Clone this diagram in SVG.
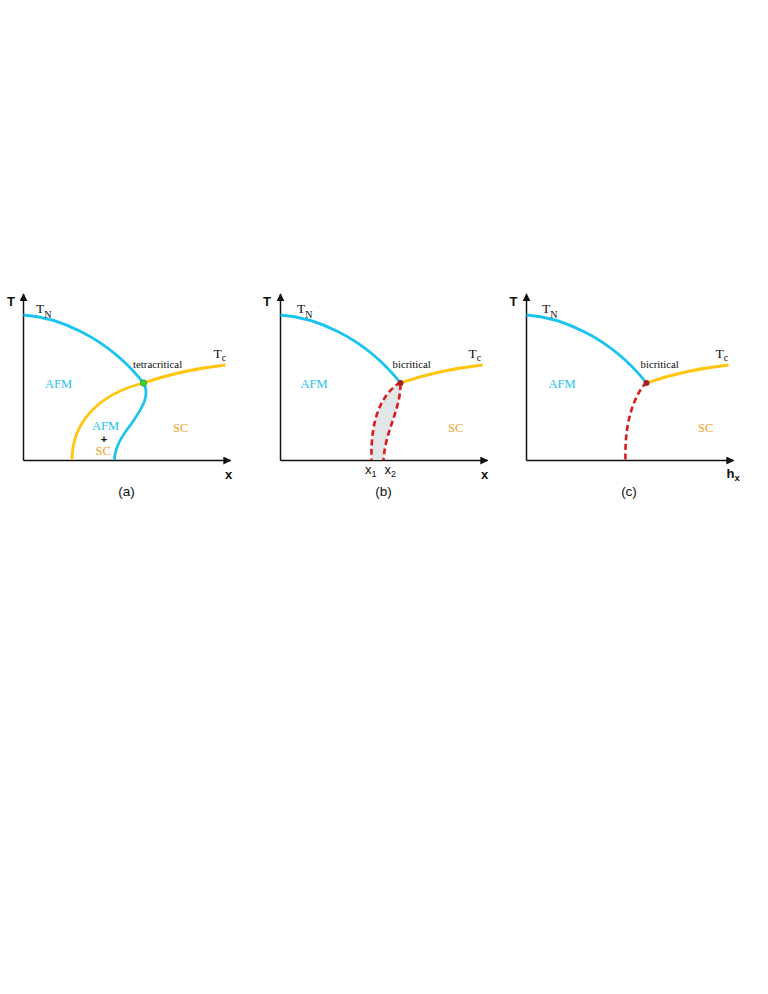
<svg xmlns="http://www.w3.org/2000/svg" width="768" height="994" viewBox="0 0 768 994">
<style>
.axis{stroke:#111;stroke-width:1.5;fill:none}
.blue{stroke:#1CC3F0;stroke-width:2.8;fill:none}
.gold{stroke:#FFC60C;stroke-width:2.8;fill:none}
.dash{stroke:#D91C1C;stroke-width:2.6;fill:none;stroke-dasharray:6 3.5}
.ax{font-family:"Liberation Sans",Arial,sans-serif;font-weight:bold;font-size:13px;fill:#111}
.cap{font-family:"Liberation Sans",Arial,sans-serif;font-size:13.5px;fill:#111;text-anchor:middle}
.serif{font-family:"Liberation Serif","Times New Roman",serif}
.lab{font-size:12.5px}
.tb{font-size:13.5px;fill:#111}
.sub{font-size:10px}
.crit{font-size:10.8px;fill:#111}
.afm{fill:#1CC3F0}
.sc{fill:#F2A02A}
.xs{font-family:"Liberation Sans",Arial,sans-serif;font-size:13px;fill:#111}
</style>
<defs>
<marker id="arr" viewBox="0 0 10 10" refX="9" refY="5" markerWidth="8" markerHeight="8" markerUnits="userSpaceOnUse" orient="auto">
<path d="M0,0 L10,5 L0,10 Z" fill="#111"/>
</marker>
</defs>

<g id="panel-a" transform="translate(23.5,0)">
<g id="axes-a">
<line class="axis" x1="0" y1="460.5" x2="0" y2="294" marker-end="url(#arr)"/>
<line class="axis" x1="0" y1="460.5" x2="207" y2="460.5" marker-end="url(#arr)"/>
<text class="ax" x="-12.5" y="305.5" text-anchor="middle">T</text>
<text class="ax" x="205" y="479" text-anchor="middle">x</text>
<text class="cap" x="103" y="496">(a)</text>
</g>
<g id="curves-a">
<path class="blue" d="M0,315 C32,317 82,335 120,383"/>
<path class="gold" d="M120,383 Q157,370 202,365"/>
<path class="gold" d="M48.5,460 C48.5,425 72,395 120,383"/>
<path class="blue" d="M120,383 C127,395 119,408 107,425 C95,440 91,450 91,460"/>
<circle cx="120" cy="383" r="3.2" fill="#3DD62E" stroke="#2a7a2a" stroke-width="0.6"/>
</g>
<g id="labels-a" class="serif">
<text class="tb" x="12.5" y="313">T<tspan class="sub" dy="4.5">N</tspan></text>
<text class="tb" x="190" y="357.5">T<tspan class="sub" dy="3.5">c</tspan></text>
<text class="crit" x="109.5" y="367.5">tetracritical</text>
<text class="lab afm" x="68.5" y="429.5">AFM</text>
<text class="lab afm" x="21.5" y="388">AFM</text>
<text x="80.5" y="443" text-anchor="middle" font-family="Liberation Sans,Arial,sans-serif" font-weight="bold" font-size="11" fill="#111">+</text>
<text class="lab sc" x="72" y="455">SC</text>
<text class="lab sc" x="149.5" y="432">SC</text>
</g>
</g>

<g id="panel-b" transform="translate(280.5,0)">
<g id="axes-b">
<line class="axis" x1="0" y1="460.5" x2="0" y2="294" marker-end="url(#arr)"/>
<line class="axis" x1="0" y1="460.5" x2="207" y2="460.5" marker-end="url(#arr)"/>
<text class="ax" x="-13.5" y="305.5" text-anchor="middle">T</text>
<text class="ax" x="204" y="479" text-anchor="middle">x</text>
<text class="cap" x="103" y="496">(b)</text>
</g>
<g id="curves-b">
<path d="M120,382 C100,395 90,420 91,460 L103,460 C105,430 120,410 120,384 Z" fill="#E2E6E6"/>
<path class="blue" d="M0,315 C32,317 82,335 120,383"/>
<path class="gold" d="M120,383 Q157,370 202,365"/>
<path class="dash" d="M120,382 C100,395 90,420 91,460"/>
<path class="dash" d="M120,384 C120,410 105,430 103,460"/>
<circle cx="120" cy="383" r="3" fill="#A52020"/>
</g>
<g id="labels-b" class="serif">
<text class="tb" x="16.5" y="313">T<tspan class="sub" dy="4.5">N</tspan></text>
<text class="tb" x="188" y="357.5">T<tspan class="sub" dy="3.5">c</tspan></text>
<text class="crit" x="112" y="367.5">bicritical</text>
<text class="lab afm" x="20" y="388">AFM</text>
<text class="lab sc" x="167.5" y="432">SC</text>
<text class="xs" x="84.5" y="474">x<tspan font-size="9" dy="3">1</tspan></text>
<text class="xs" x="104" y="474">x<tspan font-size="9" dy="3">2</tspan></text>
</g>
</g>

<g id="panel-c" transform="translate(526.5,0)">
<g id="axes-c">
<line class="axis" x1="0" y1="460.5" x2="0" y2="294" marker-end="url(#arr)"/>
<line class="axis" x1="0" y1="460.5" x2="207" y2="460.5" marker-end="url(#arr)"/>
<text class="ax" x="-13" y="305.5" text-anchor="middle">T</text>
<text class="ax" x="200" y="478">h<tspan font-size="9.5" dy="3">x</tspan></text>
<text class="cap" x="102.5" y="496">(c)</text>
</g>
<g id="curves-c">
<path class="blue" d="M0,315 C32,317 82,335 120,383"/>
<path class="gold" d="M120,383 Q157,370 202,365"/>
<path class="dash" d="M120,382 C104,400 98,430 99,460"/>
<circle cx="120" cy="383" r="3" fill="#A52020"/>
</g>
<g id="labels-c" class="serif">
<text class="tb" x="15.5" y="313">T<tspan class="sub" dy="4.5">N</tspan></text>
<text class="tb" x="189" y="357.5">T<tspan class="sub" dy="3.5">c</tspan></text>
<text class="crit" x="114" y="367.5">bicritical</text>
<text class="lab afm" x="22" y="388">AFM</text>
<text class="lab sc" x="171.5" y="432">SC</text>
</g>
</g>
</svg>
